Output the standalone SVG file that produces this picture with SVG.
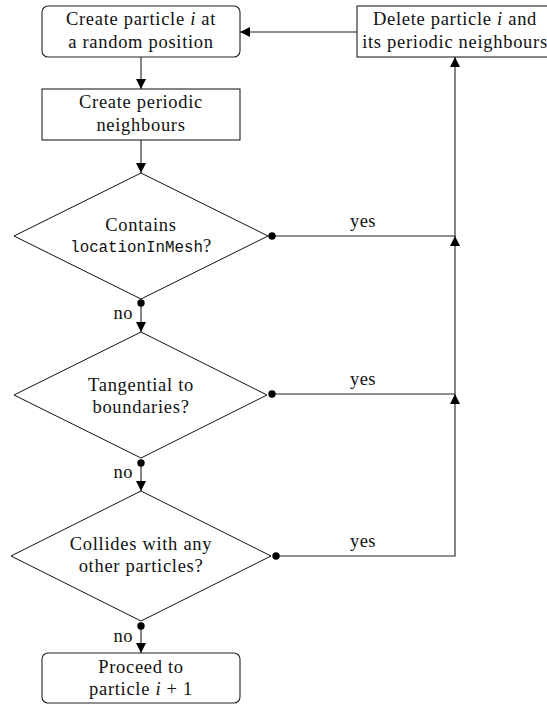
<svg xmlns="http://www.w3.org/2000/svg" width="547" height="704" viewBox="0 0 547 704">
<style>
  .box { fill: #fff; stroke: #222; stroke-width: 1.1; }
  .dia { fill: #fff; stroke: #111; stroke-width: 1; }
  .t { font-family: 'Liberation Serif', 'DejaVu Serif', serif; font-size: 18.5px; letter-spacing: 0.7px; fill: #111; text-anchor: middle; }
  .lbl { font-family: 'Liberation Serif', 'DejaVu Serif', serif; font-size: 18.5px; letter-spacing: 0.5px; fill: #111; }
  .mono { font-family: 'Liberation Mono', 'DejaVu Sans Mono', monospace; font-size: 15.8px; letter-spacing: 0; }
  .it { font-style: italic; }
  .ln { fill: none; stroke: #222; stroke-width: 1.1; }
  .dot { fill: #000; }
</style>
<defs>
  <marker id="arr" viewBox="0 0 10 10" refX="10" refY="5" markerWidth="10" markerHeight="10" markerUnits="userSpaceOnUse" orient="auto">
    <path d="M0,0 L10,5 L0,10 Z" fill="#000"/>
  </marker>
</defs>

<g id="connectors">
  <line class="ln" x1="141" y1="57" x2="141" y2="89" marker-end="url(#arr)"/>
  <line class="ln" x1="141" y1="140" x2="141" y2="173" marker-end="url(#arr)"/>
  <line class="ln" x1="141" y1="303" x2="141" y2="332" marker-end="url(#arr)"/>
  <line class="ln" x1="141" y1="463" x2="141" y2="491" marker-end="url(#arr)"/>
  <line class="ln" x1="141" y1="626" x2="141" y2="653" marker-end="url(#arr)"/>
  <line class="ln" x1="357" y1="32" x2="240" y2="32" marker-end="url(#arr)"/>
  <polyline class="ln" points="272,236 455,236 455,57" marker-end="url(#arr)"/>
  <polyline class="ln" points="272,394 455,394 455,236" marker-end="url(#arr)"/>
  <polyline class="ln" points="276,556 455,556 455,394" marker-end="url(#arr)"/>
  <circle class="dot" cx="272" cy="236" r="3.7"/>
  <circle class="dot" cx="272" cy="394" r="3.7"/>
  <circle class="dot" cx="276" cy="556" r="3.7"/>
  <circle class="dot" cx="141" cy="303" r="3.7"/>
  <circle class="dot" cx="141" cy="463" r="3.7"/>
  <circle class="dot" cx="141" cy="626" r="3.7"/>
  <text class="lbl" x="363" y="227" text-anchor="middle">yes</text>
  <text class="lbl" x="363" y="385" text-anchor="middle">yes</text>
  <text class="lbl" x="363" y="547" text-anchor="middle">yes</text>
  <text class="lbl" x="133" y="319" text-anchor="end">no</text>
  <text class="lbl" x="133" y="478" text-anchor="end">no</text>
  <text class="lbl" x="133" y="642" text-anchor="end">no</text>
</g>

<g id="create">
  <rect class="box" x="42" y="6" width="198" height="51" rx="6"/>
  <text class="t" x="141" y="25">Create particle <tspan class="it">i</tspan> at</text>
  <text class="t" x="141" y="48">a random position</text>
</g>

<g id="delete">
  <rect class="box" x="357" y="6" width="196" height="51"/>
  <text class="t" x="455" y="25">Delete particle <tspan class="it">i</tspan> and</text>
  <text class="t" x="455" y="48">its periodic neighbours</text>
</g>

<g id="periodic">
  <rect class="box" x="42" y="89" width="198" height="51"/>
  <text class="t" x="141" y="108">Create periodic</text>
  <text class="t" x="141" y="131">neighbours</text>
</g>

<g id="contains">
  <polygon class="dia" points="141,173 268,236 141,299 14,236"/>
  <text class="t" x="141" y="231">Contains</text>
  <text class="t" x="141" y="252"><tspan class="mono">locationInMesh</tspan>?</text>
</g>

<g id="tangential">
  <polygon class="dia" points="141,332 267,395 141,458 14,395"/>
  <text class="t" x="141" y="391">Tangential to</text>
  <text class="t" x="141" y="413">boundaries?</text>
</g>

<g id="collides">
  <polygon class="dia" points="141,491 271,556 141,621 11,556"/>
  <text class="t" x="141" y="550">Collides with any</text>
  <text class="t" x="141" y="572">other particles?</text>
</g>

<g id="proceed">
  <rect class="box" x="42" y="653" width="198" height="50" rx="6"/>
  <text class="t" x="141" y="673">Proceed to</text>
  <text class="t" x="141" y="695">particle <tspan class="it">i</tspan> + 1</text>
</g>
</svg>
